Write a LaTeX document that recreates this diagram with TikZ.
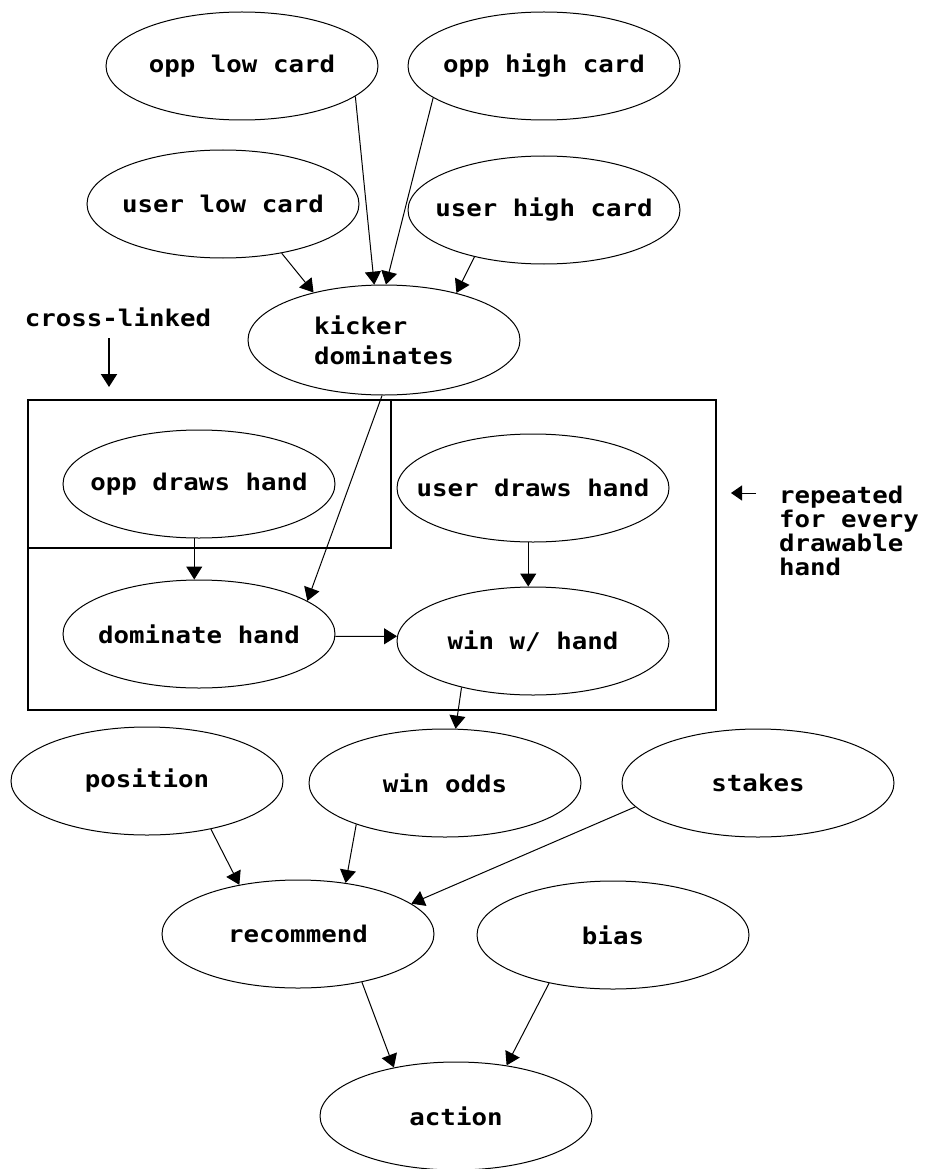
\documentclass[tikz,border=0pt]{standalone}
\usepackage{fontspec}
\newfontfamily\lblfont[FakeStretch=1.12]{DejaVu Sans Mono}
\usetikzlibrary{arrows.meta,shapes.geometric}
\begin{document}
\begin{tikzpicture}[x=1pt,y=-1pt,
  every node/.style={font=\lblfont\bfseries\fontsize{23}{30}\selectfont},
  ell/.style={draw, ellipse, line width=1pt, minimum width=272pt, minimum height=108pt, inner sep=0pt},
  fixed/.style={execute at begin node={\hbox to 0pt\bgroup\hss}, execute at end node={\hss\egroup}},
  conn/.style={draw, line width=1pt, -{Triangle[length=13pt,width=16pt]}},
  frame/.style={draw, line width=1.3pt}
]
\useasboundingbox[fill=white] (0,0) rectangle (925,1169);

% frames
\draw[frame] (28,400) rectangle (716,710);
\draw[frame] (28,400) rectangle (391,548);

% nodes
\node[ell, fixed] (olc) at (242,66) {opp low card};
\node[ell, fixed] (ohc) at (544,66) {opp high card};
\node[ell, fixed] (ulc) at (223,204) {user low card};
\node[ell, fixed] (uhc) at (544,210) {user high card};
\node[ell, minimum height=110pt, align=left] (kd) at (384,340) {kicker\\dominates};
\node[ell, fixed] (odh) at (199,484) {opp draws hand};
\node[ell, fixed] (udh) at (533,488) {user draws hand};
\node[ell, fixed] (dh) at (199,634) {dominate hand};
\node[ell, fixed] (wh) at (533,641) {win w/ hand};
\node[ell, fixed] (pos) at (147,781) {position};
\node[ell, fixed] (wo) at (445,783) {win odds};
\node[ell, fixed] (st) at (758,783) {stakes};
\node[ell, fixed] (rec) at (298,934) {recommend};
\node[ell, fixed] (bias) at (613,935) {bias};
\node[ell, fixed] (act) at (456,1116) {action};

% annotations
\node[inner sep=0pt] (cl) at (118,317) {cross-linked};
\coordinate (clA) at (109,338);
\coordinate (clB) at (109,387);
\draw[conn, line width=2pt] (clA) -- (clB);

\node[inner sep=0pt, anchor=west, align=left, font=\lblfont\bfseries\fontsize{23}{24}\selectfont] (rep) at (779,531) {repeated\\for every\\drawable\\hand};
\coordinate (repA) at (756,493);
\coordinate (repB) at (731,493);
\draw[conn, -{Triangle[length=11pt,width=15pt]}] (repA) -- (repB);

% connectors
\draw[conn] (olc.-15) -- (kd.100);
\draw[conn] (ohc.-164) -- (kd.88);
\draw[conn] (ulc.-40) -- (kd.146);
\draw[conn] (uhc.-146) -- (kd.33);
\draw[conn] (kd.-92) -- (dh.17);
\draw[conn] (odh.-95) -- (dh.95);
\draw[conn] (udh.-95) -- (wh.95);
\draw[conn] (dh.-1.5) -- (wh.178);
\draw[conn] (wh.-147) -- (wo.79);
\draw[conn] (pos.-37) -- (rec.140);
\draw[conn] (wo.-155) -- (rec.47);
\draw[conn] (st.-169) -- (rec.15);
\draw[conn] (rec.-37) -- (act.142);
\draw[conn] (bias.-143) -- (act.45);
\end{tikzpicture}
\end{document}
